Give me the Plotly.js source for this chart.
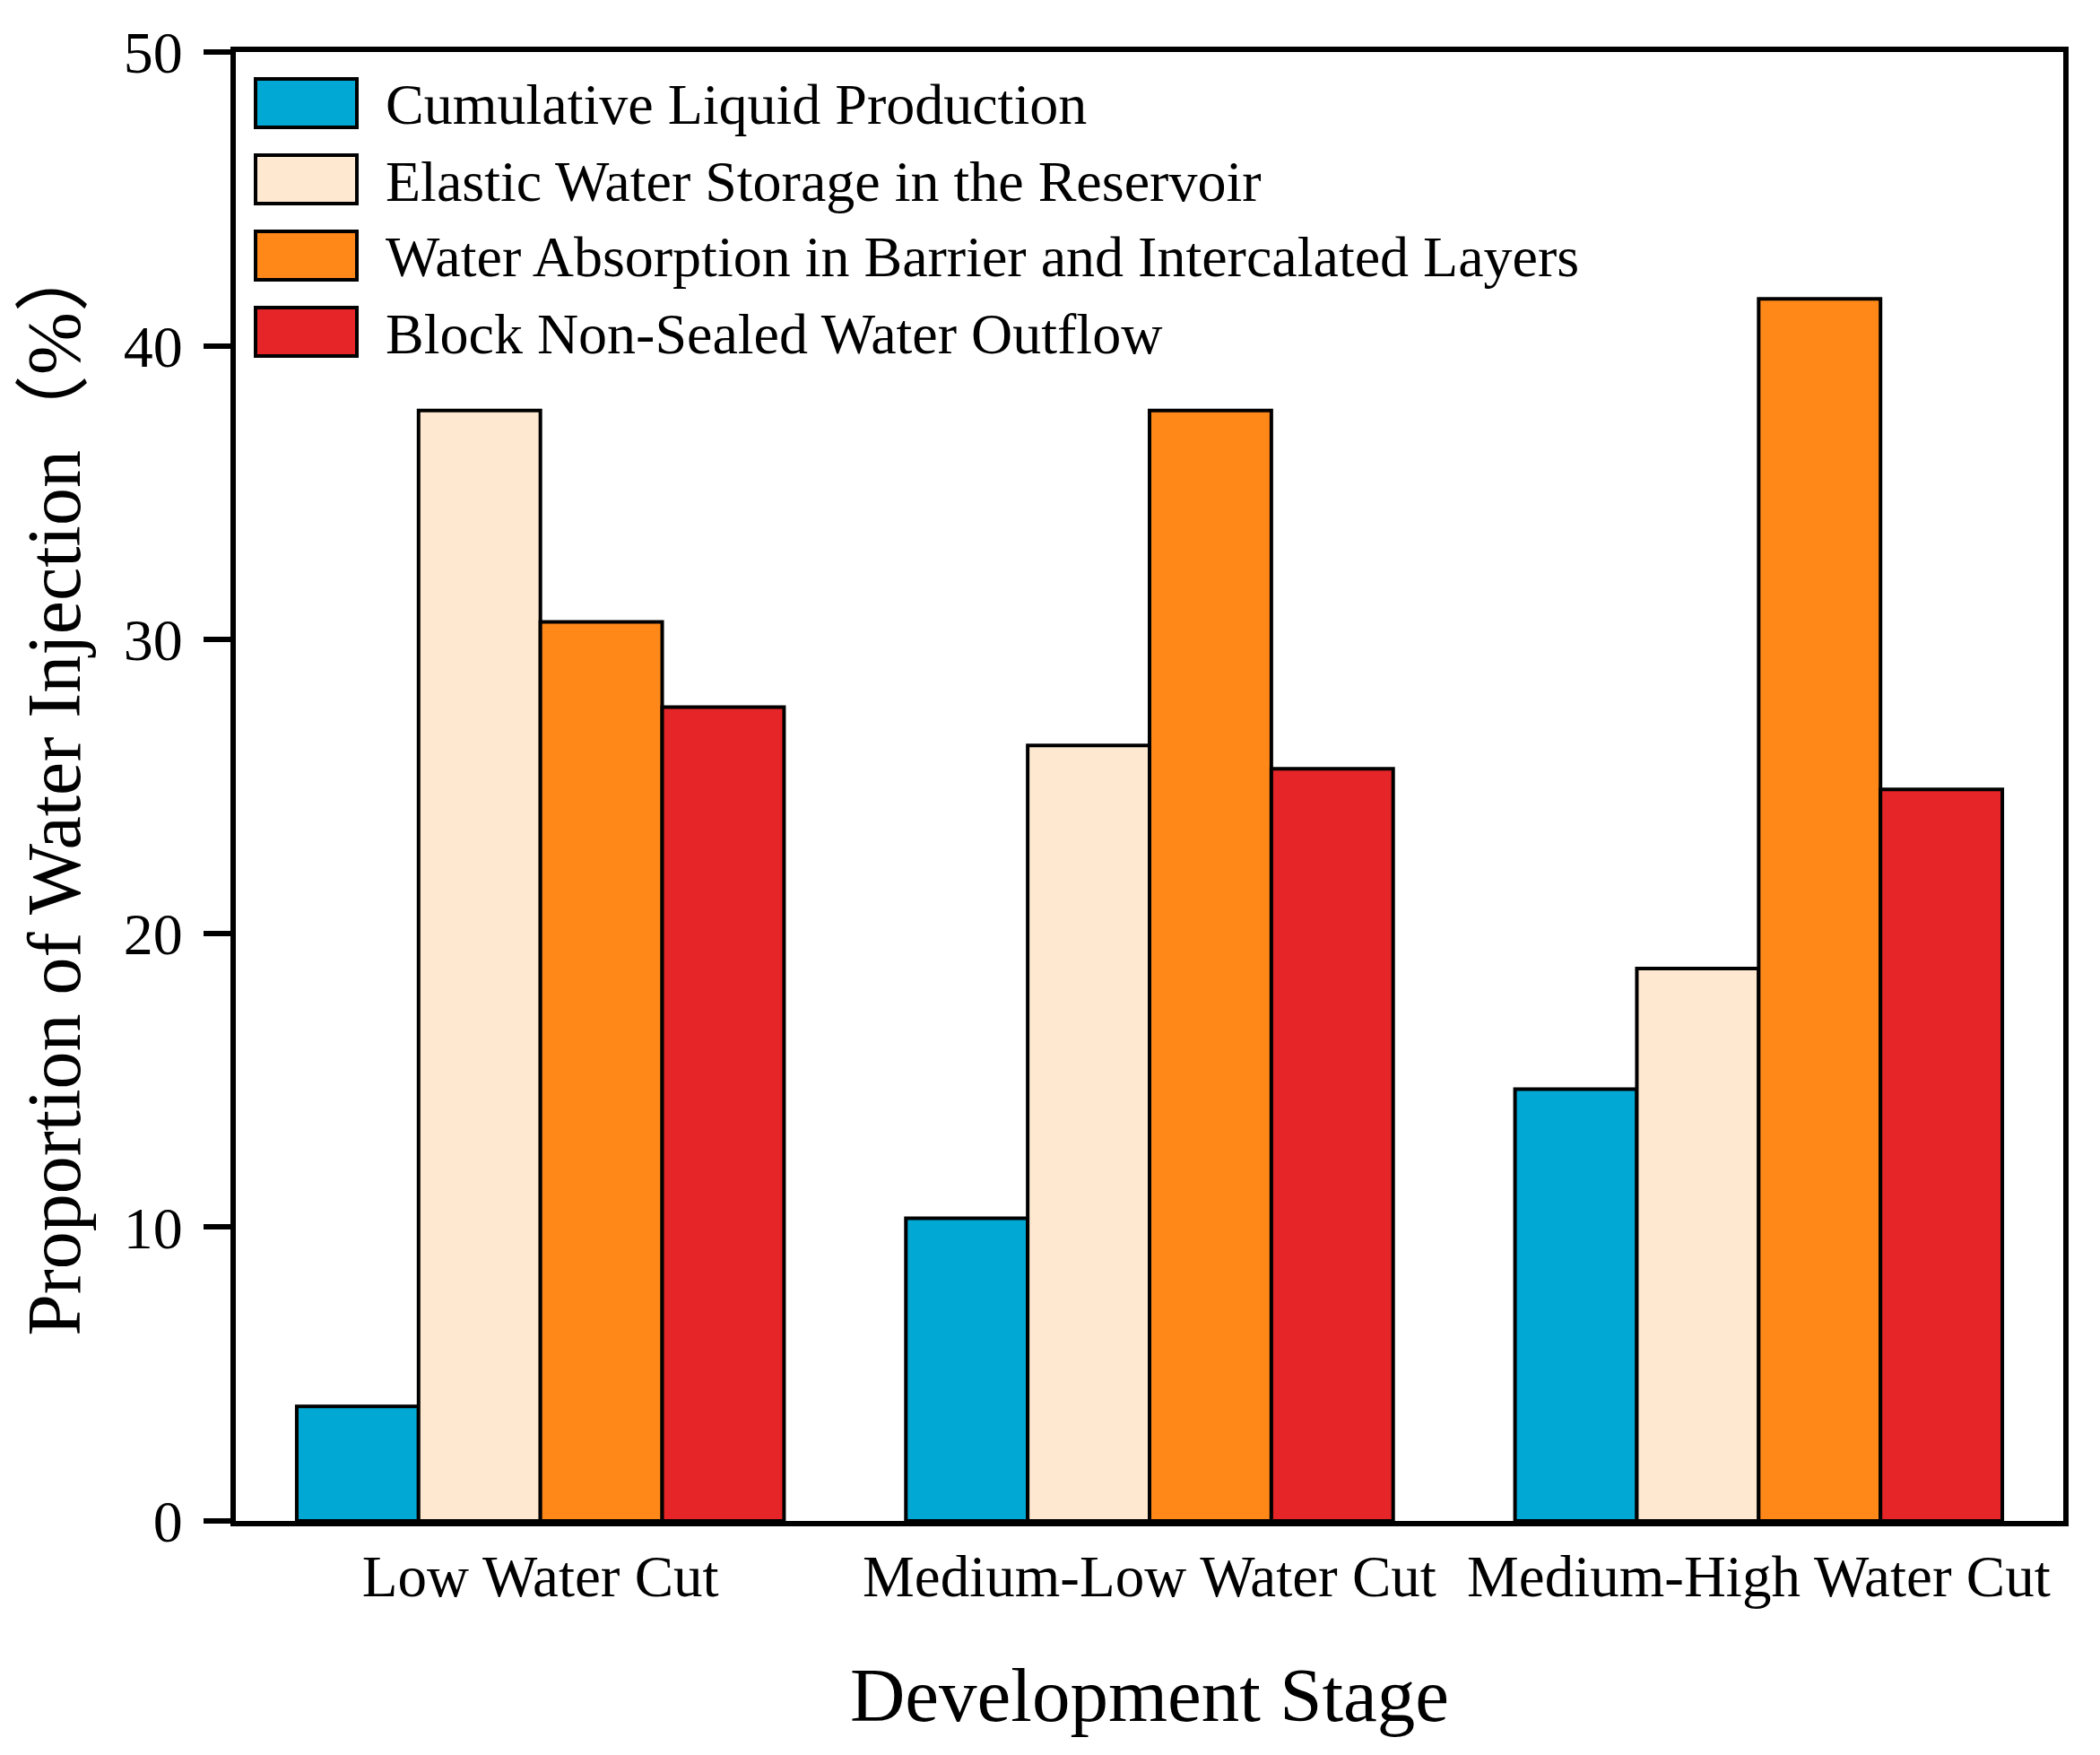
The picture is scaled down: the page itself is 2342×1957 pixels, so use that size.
<!DOCTYPE html>
<html>
<head>
<meta charset="utf-8">
<script src="https://cdn.plot.ly/plotly-3.0.1.min.js"></script>
<style>html,body{margin:0;padding:0;background:#fff;}#chart{width:2342px;height:1957px;}</style>
</head>
<body>
<div id="chart"></div>
<script>
const categories = ['Low Water Cut', 'Medium-Low Water Cut', 'Medium-High Water Cut'];
const seriesNames = [
  'Cumulative Liquid Production',
  'Elastic Water Storage in the Reservoir',
  'Water Absorption in Barrier and Intercalated Layers',
  'Block Non-Sealed Water Outflow'
];
const cumulativeLiquid = [3.9, 10.3, 14.7];
const elasticStorage = [37.8, 26.4, 18.8];
const barrierAbsorption = [30.6, 37.8, 41.6];
const nonSealedOutflow = [27.7, 25.6, 24.9];
const seriesColors = ['#00A8D3', '#FEE8CF', '#FF8819', '#E52527'];
const yTickValues = [0, 10, 20, 30, 40, 50];

const seriesValues = [cumulativeLiquid, elasticStorage, barrierAbsorption, nonSealedOutflow];
const FONT = '"Liberation Serif", "Times New Roman", "Noto Sans CJK SC", serif';

const traces = seriesValues.map((vals, i) => ({
  type: 'bar',
  name: seriesNames[i],
  x: categories,
  y: vals,
  marker: { color: seriesColors[i], line: { color: '#000', width: 4 } },
  showlegend: false,
  hoverinfo: 'skip'
}));

// plot area in pixels
const W = 2342, H = 1957;
const L = 263, R = 2301, T = 58, B = 1696;
const pw = R - L, ph = B - T;
const px2x = p => (p - L) / pw;
const py2y = p => (B - p) / ph;

// custom legend (large swatches like the reference)
const shapes = [];
const annotations = [];
const rowCenters = [115, 200, 285, 370];
seriesNames.forEach((n, i) => {
  const cy = rowCenters[i];
  shapes.push({
    type: 'rect', xref: 'paper', yref: 'paper',
    x0: px2x(285), x1: px2x(398), y0: py2y(cy + 27), y1: py2y(cy - 27),
    fillcolor: seriesColors[i], line: { color: '#000', width: 4 }
  });
  annotations.push({
    xref: 'paper', yref: 'paper', x: px2x(428), y: py2y(cy + 2),
    xanchor: 'left', yanchor: 'middle', showarrow: false,
    text: n, font: { family: FONT, size: 64, color: '#000' }
  });
});

const layout = {
  width: W, height: H,
  margin: { l: L, r: W - R, t: T, b: H - B, pad: 0 },
  paper_bgcolor: '#fff', plot_bgcolor: '#fff',
  barmode: 'group', bargap: 0.2, bargroupgap: 0,
  font: { family: FONT, color: '#000' },
  xaxis: {
    type: 'category', range: [-0.5, 2.5],
    showline: true, mirror: true, linecolor: '#000', linewidth: 6,
    ticks: '', showgrid: false, zeroline: false,
    tickfont: { family: FONT, size: 65, color: '#000' },
    ticklabelstandoff: 0,
    title: { text: 'Development Stage', font: { family: FONT, size: 85, color: '#000' }, standoff: 68 }
  },
  yaxis: {
    range: [0, 50], tickvals: yTickValues, ticktext: yTickValues.map(String),
    showline: true, mirror: true, linecolor: '#000', linewidth: 6,
    ticks: 'outside', ticklen: 30, tickwidth: 6, tickcolor: '#000',
    showgrid: false, zeroline: false,
    tickfont: { family: FONT, size: 66, color: '#000' },
    ticklabelstandoff: 10,
    title: { text: 'Proportion of Water Injection（%）', font: { family: FONT, size: 84, color: '#000' }, standoff: 22 }
  },
  shapes: shapes,
  annotations: annotations
};

Plotly.newPlot('chart', traces, layout, { displayModeBar: false, staticPlot: true });
</script>
</body>
</html>
